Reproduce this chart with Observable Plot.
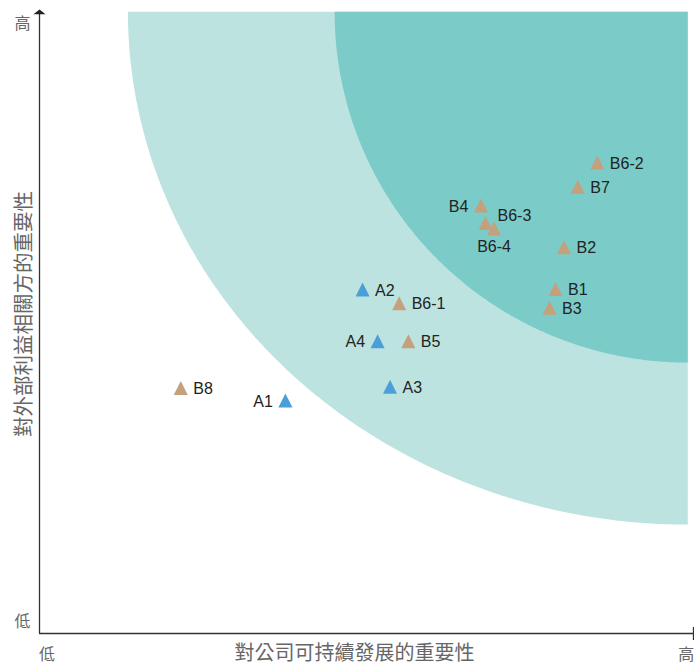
<!DOCTYPE html>
<html>
<head>
<meta charset="utf-8">
<script src="https://cdn.jsdelivr.net/npm/d3@7"></script>
<script src="https://cdn.jsdelivr.net/npm/@observablehq/plot@0.6"></script>
<style>
  html, body { margin: 0; padding: 0; background: #fff; }
</style>
</head>
<body>
<div id="chart"></div>
<script>
// ---- data ----
const names  = ["B6-2","B7","B4","B6-3","B6-4","B2","B1","B3","A2","B6-1","A4","B5","A3","B8","A1"];
const groups = ["B","B","B","B","B","B","B","B","A","B","A","B","A","B","A"];
const xs     = [85.3, 82.3, 67.5, 68.2, 69.5, 80.2, 78.9, 78.0, 49.4, 55.0, 51.7, 56.4, 53.6, 21.6, 37.6];
const ys     = [75.6, 71.7, 68.7, 65.9, 65.0, 62.0, 55.3, 52.3, 55.2, 53.0, 46.9, 46.9, 39.6, 39.4, 37.4];

const xTickValues = [1.15, 98.9];
const xTickLabels = ["低", "高"];
const yTickValues = [1.9, 97.9];
const yTickLabels = ["低", "高"];
const xTitle = "對公司可持續發展的重要性";
const yTitle = "對外部利益相關方的重要性";

// materiality zones: quarter ellipses anchored at the top-right corner
const zoneCenter = {x: 99.2, y: 99.7};
const zoneOuter = {rx: 85.6, ry: 82.3};
const zoneInner = {rx: 54.0, ry: 56.3};

// label placement lookup
const leftLabels = ["B4", "A4", "A1"];
const belowLabels = ["B6-4"];
const raisedLabels = ["B6-3"];

// ---- build ----
const points = names.map((n, i) => ({name: n, group: groups[i], x: xs[i], y: ys[i]}));
const side = d => leftLabels.includes(d.name) ? "left"
  : belowLabels.includes(d.name) ? "below"
  : raisedLabels.includes(d.name) ? "raised" : "right";

function arc(z) {
  const out = [];
  const n = 240;
  for (let i = 0; i <= n; i++) {
    const t = (i / n) * Math.PI / 2;
    out.push({x: zoneCenter.x - z.rx * Math.cos(t), y: zoneCenter.y - z.ry * Math.sin(t)});
  }
  return out;
}

const triangle = {
  draw(ctx, size) {
    const a = Math.sqrt(size / Math.PI) * 1.35;
    ctx.moveTo(0, -a);
    ctx.lineTo(a, a);
    ctx.lineTo(-a, a);
    ctx.closePath();
  }
};
const arrowHead = {
  draw(ctx) {
    ctx.moveTo(0, -1);
    ctx.lineTo(6, 3.8);
    ctx.lineTo(-6, 3.8);
    ctx.closePath();
  }
};
const endTick = {
  draw(ctx) {
    ctx.moveTo(0, -6.5);
    ctx.lineTo(0, 6.5);
  }
};

const cjk = "'Noto Sans CJK TC', 'Noto Sans CJK SC', sans-serif";
const latin = "'Liberation Sans', Arial, sans-serif";
const labelColor = "#222";

const chart = Plot.plot({
  width: 694,
  height: 665,
  marginLeft: 39,
  marginRight: 1,
  marginTop: 10,
  marginBottom: 32,
  style: {background: "#fff", overflow: "visible"},
  x: {domain: [0, 100], axis: null},
  y: {domain: [0, 100], axis: null},
  color: {domain: ["A", "B"], range: ["#4a9fd9", "#c4a07c"]},
  marks: [
    Plot.areaY(arc(zoneOuter), {x: "x", y1: "y", y2: zoneCenter.y, fill: "#bde3e0"}),
    Plot.areaY(arc(zoneInner), {x: "x", y1: "y", y2: zoneCenter.y, fill: "#7bccc8"}),
    Plot.ruleX([0], {stroke: "#333", strokeWidth: 1.3}),
    Plot.ruleY([0], {stroke: "#333", strokeWidth: 1.3}),
    Plot.dot([{x: 0, y: 100}], {x: "x", y: "y", symbol: arrowHead, fill: "#222", r: 5}),
    Plot.dot([{x: 100, y: 0}], {x: "x", y: "y", symbol: endTick, stroke: "#333", strokeWidth: 1.3, fill: "none", r: 5}),
    Plot.dot(points, {x: "x", y: "y", symbol: triangle, r: 5.2, fill: "group", stroke: "none"}),
    Plot.text(points, {filter: d => side(d) === "right", x: "x", y: "y", text: "name", dx: 12.5, dy: 1,
      textAnchor: "start", lineAnchor: "middle", fontSize: 16, fontFamily: latin, fill: labelColor}),
    Plot.text(points, {filter: d => side(d) === "raised", x: "x", y: "y", text: "name", dx: 12, dy: -7,
      textAnchor: "start", lineAnchor: "middle", fontSize: 16, fontFamily: latin, fill: labelColor}),
    Plot.text(points, {filter: d => side(d) === "left", x: "x", y: "y", text: "name", dx: -12.5, dy: 1,
      textAnchor: "end", lineAnchor: "middle", fontSize: 16, fontFamily: latin, fill: labelColor}),
    Plot.text(points, {filter: d => side(d) === "below", x: "x", y: "y", text: "name", dx: 0, dy: 18,
      textAnchor: "middle", lineAnchor: "middle", fontSize: 16, fontFamily: latin, fill: labelColor}),
    // tick labels
    Plot.text(xTickValues, {x: d => d, frameAnchor: "bottom", dy: 21, text: (d, i) => xTickLabels[i],
      textAnchor: "middle", lineAnchor: "middle", fontSize: 16, fontFamily: cjk, fill: "#666"}),
    Plot.text(yTickValues, {y: d => d, frameAnchor: "left", dx: -17, text: (d, i) => yTickLabels[i],
      textAnchor: "middle", lineAnchor: "middle", fontSize: 16, fontFamily: cjk, fill: "#666"}),
    // axis titles
    Plot.text([xTitle], {frameAnchor: "bottom", dx: -12, dy: 20, text: d => d,
      textAnchor: "middle", lineAnchor: "middle", fontSize: 20, fontFamily: cjk, fill: "#666"}),
    Plot.text([yTitle], {frameAnchor: "left", dx: -15.5, dy: -8, rotate: -90, text: d => d,
      textAnchor: "middle", lineAnchor: "middle", fontSize: 20.5, fontFamily: cjk, fill: "#666"})
  ]
});
document.getElementById("chart").appendChild(chart);
</script>
</body>
</html>
